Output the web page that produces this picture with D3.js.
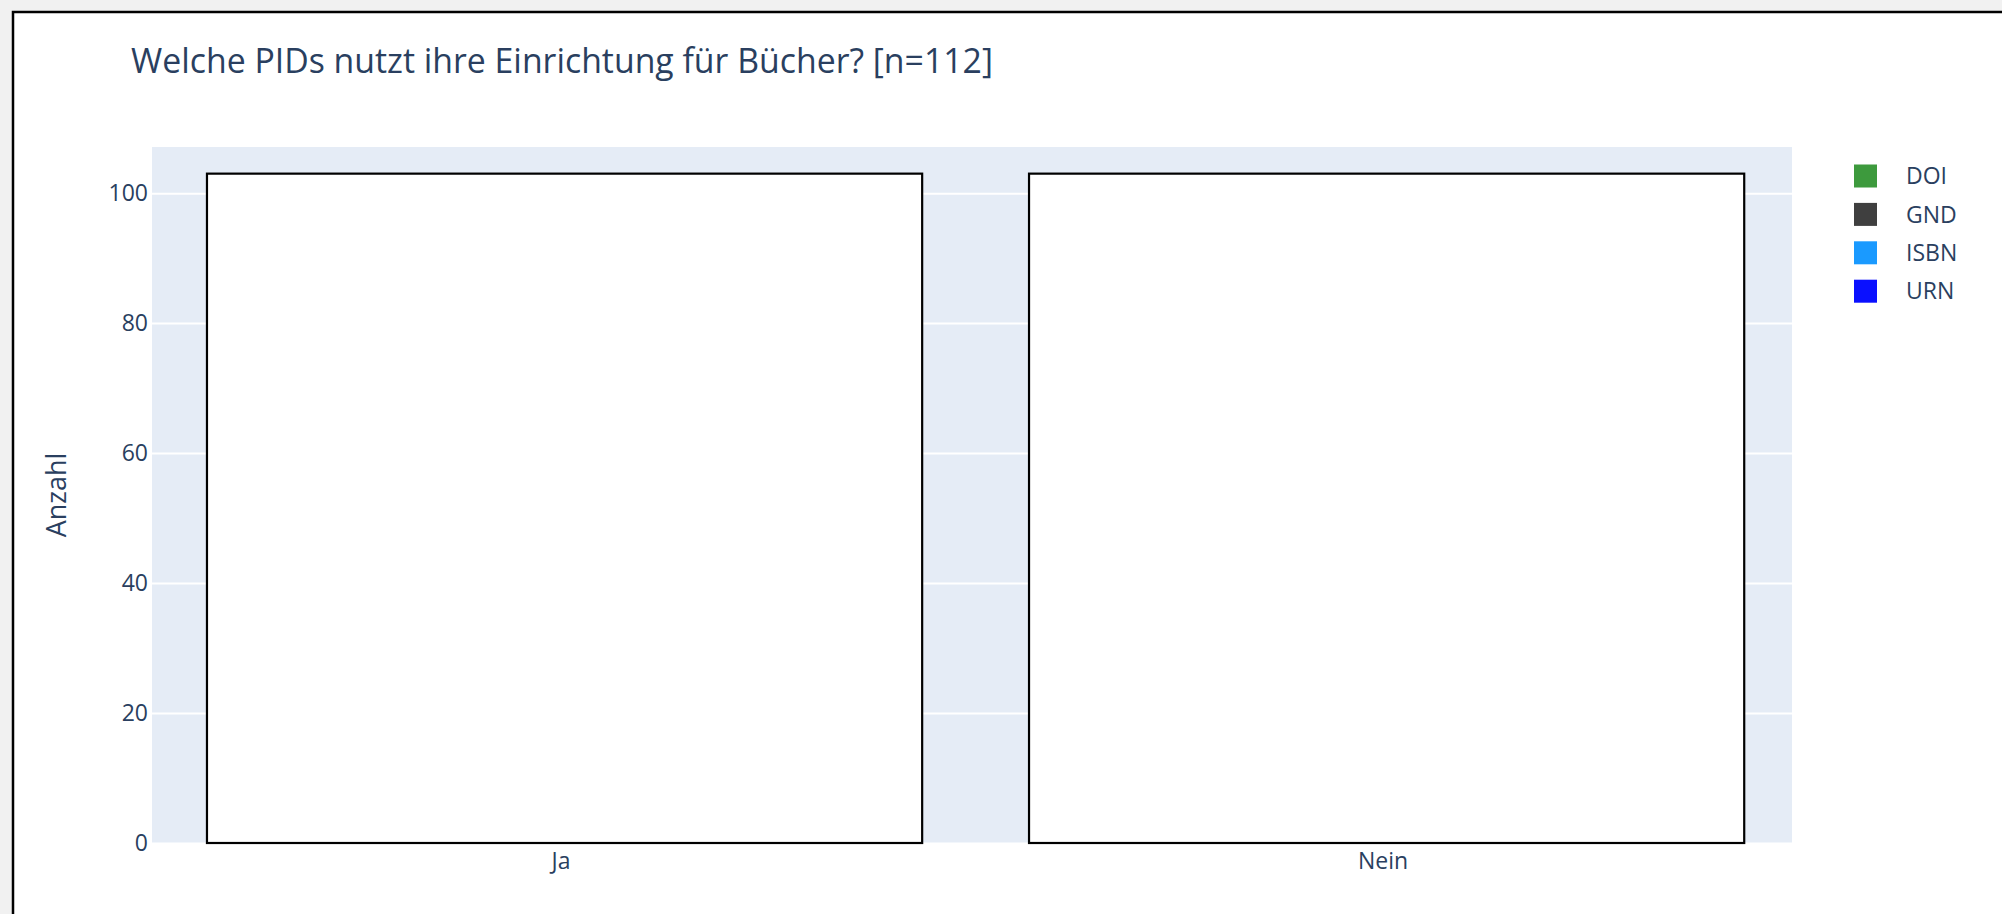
<!DOCTYPE html>
<html>
<head>
<meta charset="utf-8">
<script src="https://cdn.jsdelivr.net/npm/d3@7"></script>
<style>
  body { margin: 0; background: #f1f1f1; }
  svg { display: block; }
  text { font-family: "Open Sans", sans-serif; fill: #2a3f5f; }
</style>
</head>
<body>
<div class="PidChart"></div>
<script>
// chart values
var categories = ["Ja", "Nein"];
var totals = [103, 103];
var seriesNames = ["DOI", "GND", "ISBN", "URN"];
var yTicks = [0, 20, 40, 60, 80, 100];
var yMax = 107.1;
var titleText = "Welche PIDs nutzt ihre Einrichtung für Bücher? [n=112]";
var yTitle = "Anzahl";

var W = 2002, H = 914;
var margin = {top: 147, right: 210, bottom: 71, left: 152},
    width = W - margin.left - margin.right,
    height = H - margin.top - margin.bottom;

var svg = d3.select(".PidChart").append("svg")
    .attr("width", W)
    .attr("height", H);

// screenshot frame
svg.append("rect")
    .attr("x", 13).attr("y", 12)
    .attr("width", W + 50).attr("height", H + 50)
    .attr("fill", "#fff")
    .attr("stroke", "#000")
    .attr("stroke-width", 2.5);

svg.append("text")
    .attr("x", 131)
    .attr("y", 73)
    .style("font-size", "33.8px")
    .text(titleText);

var g = svg.append("g")
    .attr("transform", "translate(" + margin.left + "," + margin.top + ")");

var x = d3.scaleBand()
    .domain(categories)
    .range([0, width])
    .paddingInner(0.13)
    .paddingOuter(0.0625);

// bars sit a few px right of the category centre in the original
var xBar = x.copy().align(0.535);

var y = d3.scaleLinear()
    .domain([0, yMax])
    .range([height, 0]);

var color = d3.scaleOrdinal()
    .domain(seriesNames)
    .range(["#3d9a3d", "#3f3f3f", "#1a9aff", "#0a10ff"]);

g.append("rect")
    .attr("width", width)
    .attr("height", height)
    .attr("fill", "#e5ecf6");

// grid
g.append("g")
    .attr("class", "grid")
    .call(d3.axisLeft(y).tickValues(yTicks).tickSize(-width).tickFormat(""))
    .call(function(s) {
      s.select(".domain").remove();
      s.selectAll("line").attr("stroke", "#fff").attr("stroke-width", 2);
    });

var data = categories.map(function(c, i) { return {cat: c, value: totals[i]}; });

g.selectAll(".bar")
    .data(data)
    .enter().append("rect")
    .attr("class", "bar")
    .attr("x", function(d) { return xBar(d.cat); })
    .attr("y", function(d) { return y(d.value); })
    .attr("width", xBar.bandwidth())
    .attr("height", function(d) { return y(0) - y(d.value); })
    .attr("fill", "#fff")
    .attr("stroke", "#000")
    .attr("stroke-width", 2.2);

g.append("g")
    .attr("class", "y axis")
    .call(d3.axisLeft(y).tickValues(yTicks).tickSize(0).tickPadding(4))
    .call(function(s) {
      s.select(".domain").remove();
      s.selectAll("text").style("font-size", "23px").attr("font-family", null);
    });

g.append("g")
    .attr("class", "x axis")
    .attr("transform", "translate(0," + height + ")")
    .call(d3.axisBottom(x).tickSize(0).tickPadding(10))
    .call(function(s) {
      s.select(".domain").remove();
      s.selectAll("text").style("font-size", "23px").attr("font-family", null);
    });

svg.append("text")
    .attr("text-anchor", "middle")
    .attr("transform", "translate(" + 66 + "," + (margin.top + height / 2) + ")rotate(-90)")
    .style("font-size", "27px")
    .text(yTitle);

// legend
var legend = svg.append("g")
    .attr("transform", "translate(1854,176)");

var item = legend.selectAll(".item")
    .data(seriesNames)
    .enter().append("g")
    .attr("class", "item")
    .attr("transform", function(d, i) { return "translate(0," + (i * 38.4) + ")"; });

item.append("rect")
    .attr("x", 0).attr("y", -11.5)
    .attr("width", 23).attr("height", 23)
    .attr("fill", function(d) { return color(d); });

item.append("text")
    .attr("x", 52)
    .attr("dy", "0.36em")
    .style("font-size", "23px")
    .text(function(d) { return d; });
</script>
</body>
</html>
